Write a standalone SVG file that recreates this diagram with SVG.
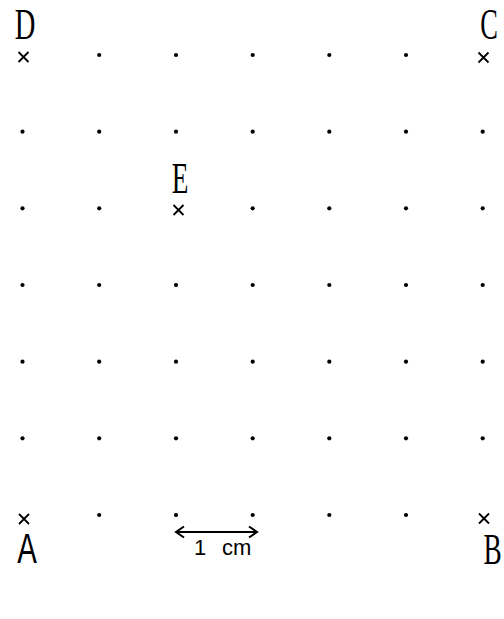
<svg xmlns="http://www.w3.org/2000/svg" xmlns:xlink="http://www.w3.org/1999/xlink" width="504" height="619" viewBox="0 0 504 619">
<style>
.dot{fill:#000}
.lbl{font-family:"Liberation Serif","Times New Roman",serif;font-size:44px;fill:#000;text-anchor:middle}
.lblA{font-family:"Liberation Sans",Arial,sans-serif;font-size:42px;fill:#000;text-anchor:middle}
.cross{stroke:#000;stroke-width:1.8;fill:none}
.scale{font-family:"Liberation Sans",Arial,sans-serif;font-size:22px;fill:#000}
.conn{stroke:#000;stroke-width:2;fill:none}
</style>
<defs>
<path id="xm" d="M-5,-5 L5,5 M5,-5 L-5,5" class="cross"/>
<circle id="d" r="2.1" class="dot"/>
</defs>
<rect width="504" height="619" fill="#fff"/>
<g id="grid">
<use xlink:href="#d" x="99.2" y="55"/><use xlink:href="#d" x="176" y="55"/><use xlink:href="#d" x="252.7" y="55"/><use xlink:href="#d" x="329.3" y="55"/><use xlink:href="#d" x="406" y="55"/>
<use xlink:href="#d" x="22.5" y="131.7"/><use xlink:href="#d" x="99.2" y="131.7"/><use xlink:href="#d" x="176" y="131.7"/><use xlink:href="#d" x="252.7" y="131.7"/><use xlink:href="#d" x="329.3" y="131.7"/><use xlink:href="#d" x="406" y="131.7"/><use xlink:href="#d" x="482.7" y="131.7"/>
<use xlink:href="#d" x="22.5" y="208.3"/><use xlink:href="#d" x="99.2" y="208.3"/><use xlink:href="#d" x="252.7" y="208.3"/><use xlink:href="#d" x="329.3" y="208.3"/><use xlink:href="#d" x="406" y="208.3"/><use xlink:href="#d" x="482.7" y="208.3"/>
<use xlink:href="#d" x="22.5" y="285"/><use xlink:href="#d" x="99.2" y="285"/><use xlink:href="#d" x="176" y="285"/><use xlink:href="#d" x="252.7" y="285"/><use xlink:href="#d" x="329.3" y="285"/><use xlink:href="#d" x="406" y="285"/><use xlink:href="#d" x="482.7" y="285"/>
<use xlink:href="#d" x="22.5" y="361.7"/><use xlink:href="#d" x="99.2" y="361.7"/><use xlink:href="#d" x="176" y="361.7"/><use xlink:href="#d" x="252.7" y="361.7"/><use xlink:href="#d" x="329.3" y="361.7"/><use xlink:href="#d" x="406" y="361.7"/><use xlink:href="#d" x="482.7" y="361.7"/>
<use xlink:href="#d" x="22.5" y="438.3"/><use xlink:href="#d" x="99.2" y="438.3"/><use xlink:href="#d" x="176" y="438.3"/><use xlink:href="#d" x="252.7" y="438.3"/><use xlink:href="#d" x="329.3" y="438.3"/><use xlink:href="#d" x="406" y="438.3"/><use xlink:href="#d" x="482.7" y="438.3"/>
<use xlink:href="#d" x="99.2" y="515"/><use xlink:href="#d" x="176" y="515"/><use xlink:href="#d" x="252.7" y="515"/><use xlink:href="#d" x="329.3" y="515"/><use xlink:href="#d" x="406" y="515"/>
</g>
<g id="D"><use xlink:href="#xm" x="23.5" y="57"/><text class="lbl" transform="translate(25,39) scale(0.65,1)">D</text></g>
<g id="C"><use xlink:href="#xm" x="483.5" y="57.5"/><text class="lbl" transform="translate(489,38.5) scale(0.6,1)">C</text></g>
<g id="E"><use xlink:href="#xm" x="178.5" y="210"/><text class="lbl" transform="translate(180,193) scale(0.62,1)">E</text></g>
<g id="A"><use xlink:href="#xm" x="24" y="519"/><text class="lblA" transform="translate(27,563) scale(0.7,1)">A</text></g>
<g id="B"><use xlink:href="#xm" x="484" y="518.5"/><text class="lbl" transform="translate(492.5,564) scale(0.62,1)">B</text></g>
<g id="connectors">
<path class="conn" d="M176,532 H257 M184,526.5 L176,532 L184,537.5 M249,526.5 L257,532 L249,537.5"/>
</g>
<g id="scale-label"><text class="scale" x="194" y="555">1 <tspan x="222">cm</tspan></text></g>
</svg>
